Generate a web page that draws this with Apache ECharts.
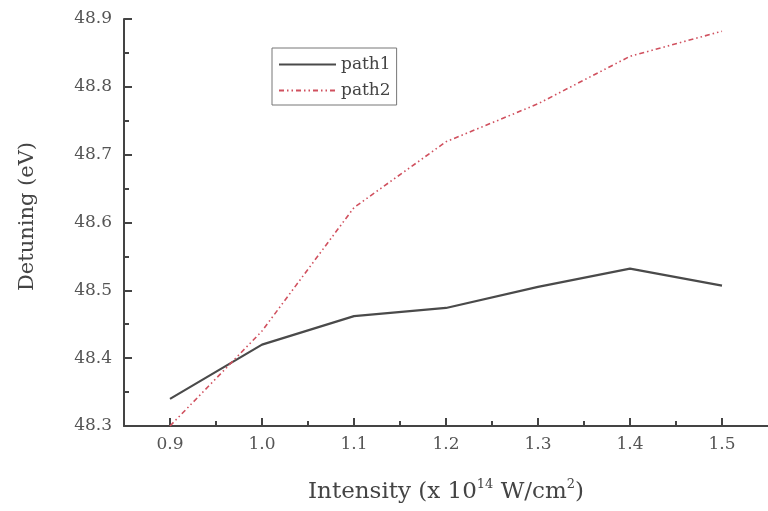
<!DOCTYPE html>
<html>
<head>
<meta charset="utf-8">
<script src="https://cdn.jsdelivr.net/npm/echarts@6/dist/echarts.min.js"></script>
<style>html,body{margin:0;padding:0;background:#fff}#c{width:768px;height:511px}</style>
</head>
<body>
<div id="c"></div>
<script>
const intensity = [0.9, 1.0, 1.1, 1.2, 1.3, 1.4, 1.5];
const path1 = [48.34, 48.42, 48.462, 48.474, 48.505, 48.532, 48.507];
const path2 = [48.30, 48.44, 48.622, 48.719, 48.775, 48.845, 48.882];
const xTicks = [0.9, 1.0, 1.1, 1.2, 1.3, 1.4, 1.5];
const xMinorTicks = [0.95, 1.05, 1.15, 1.25, 1.35, 1.45];
const yTicks = [48.3, 48.4, 48.5, 48.6, 48.7, 48.8, 48.9];
const yMinorTicks = [48.35, 48.45, 48.55, 48.65, 48.75, 48.85];

const font = 'DejaVu Serif';
const axisColor = '#444';
const chart = echarts.init(document.getElementById('c'), null, {renderer: 'canvas'});

const baseX = {type: 'value', min: 0.85, max: 1.55, splitLine: {show: false}};
const baseY = {type: 'value', min: 48.3, max: 48.9, splitLine: {show: false}};

chart.setOption({
  animation: false,
  backgroundColor: '#fff',
  grid: {left: 124, top: 19, bottom: 83, right: -6, containLabel: false},
  legend: {
    left: 272, top: 48, orient: 'vertical',
    borderColor: '#777', borderWidth: 1,
    padding: [8, 6, 6, 6],
    itemWidth: 57, itemHeight: 14, itemGap: 9,
    itemStyle: {opacity: 0},
    textStyle: {fontFamily: font, fontSize: 17, color: '#444'},
    data: ['path1', 'path2']
  },
  xAxis: [
    Object.assign({}, baseX, {
      name: 'Intensity (x 10{sup|14} W/cm{sup|2})',
      nameLocation: 'middle', nameGap: 52,
      nameTextStyle: {fontFamily: font, fontSize: 23, color: '#444', lineHeight: 28,
        rich: {sup: {fontFamily: font, fontSize: 13, color: '#444', verticalAlign: 'top', lineHeight: 28, padding: [0, 0, 9, 0]}}},
      axisLine: {show: true, lineStyle: {color: axisColor, width: 2}},
      axisTick: {show: true, inside: true, length: 8, lineStyle: {color: axisColor, width: 2}, customValues: xTicks},
      axisLabel: {customValues: xTicks, margin: 10, fontFamily: font, fontSize: 17, color: '#555',
        formatter: v => v.toFixed(1)}
    }),
    Object.assign({}, baseX, {
      position: 'bottom',
      axisLine: {show: false},
      axisTick: {show: true, inside: true, length: 5, lineStyle: {color: axisColor, width: 2}, customValues: xMinorTicks},
      axisLabel: {show: false}
    })
  ],
  yAxis: [
    Object.assign({}, baseY, {
      name: 'Detuning (eV)',
      nameLocation: 'middle', nameGap: 86, nameRotate: 90,
      nameTextStyle: {fontFamily: font, fontSize: 21, color: '#444', padding: [0, 0, 0, 12]},
      axisLine: {show: true, lineStyle: {color: axisColor, width: 2}},
      axisTick: {show: true, inside: true, length: 8, lineStyle: {color: axisColor, width: 2}, customValues: yTicks},
      axisLabel: {customValues: yTicks, margin: 12, fontFamily: font, fontSize: 17, color: '#555',
        formatter: v => v.toFixed(1)}
    }),
    Object.assign({}, baseY, {
      position: 'left',
      axisLine: {show: false},
      axisTick: {show: true, inside: true, length: 5, lineStyle: {color: axisColor, width: 2}, customValues: yMinorTicks},
      axisLabel: {show: false}
    })
  ],
  series: [
    {
      name: 'path1', type: 'line', xAxisIndex: 0, yAxisIndex: 0,
      data: intensity.map((x, i) => [x, path1[i]]),
      symbol: 'none', itemStyle: {color: '#444'},
      lineStyle: {color: '#4a4a4a', width: 2.2, type: 'solid'}
    },
    {
      name: 'path2', type: 'line', xAxisIndex: 0, yAxisIndex: 0,
      data: intensity.map((x, i) => [x, path2[i]]),
      symbol: 'none', itemStyle: {color: '#d0505e'},
      lineStyle: {color: '#d0505e', width: 1.6, type: [5, 3, 1.5, 3, 1.5, 3]}
    }
  ]
});
</script>
</body>
</html>
